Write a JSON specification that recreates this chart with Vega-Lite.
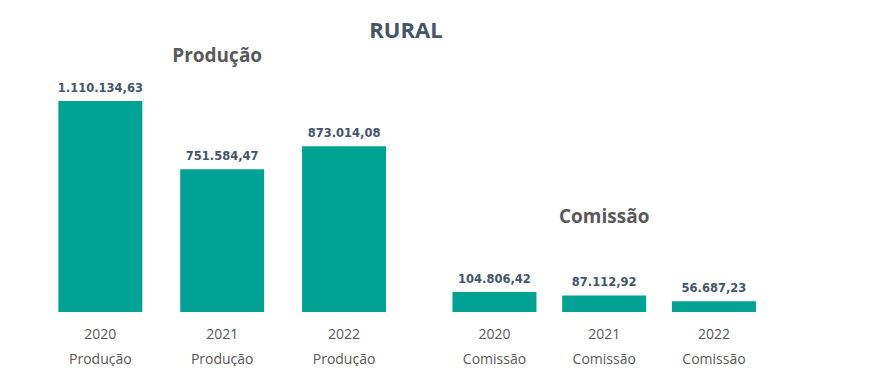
{
  "$schema": "https://vega.github.io/schema/vega-lite/v6.json",
  "padding": {"left": 34, "top": 19, "right": 5, "bottom": 0},
  "title": {"text": "RURAL", "font": "Open Sans", "fontSize": 22, "fontWeight": "bold", "color": "#44546A", "anchor": "middle", "offset": 4},
  "config": {
    "view": {"stroke": null},
    "concat": {"spacing": 19.5},
    "locale": {"number": {"decimal": ",", "thousands": ".", "grouping": [3], "currency": ["R$", ""]}}
  },
  "data": {"values": [
    {"grupo": "Produção", "ano": "2020", "valor": 1110134.63},
    {"grupo": "Produção", "ano": "2021", "valor": 751584.47},
    {"grupo": "Produção", "ano": "2022", "valor": 873014.08},
    {"grupo": "Comissão", "ano": "2020", "valor": 104806.42},
    {"grupo": "Comissão", "ano": "2021", "valor": 87112.92},
    {"grupo": "Comissão", "ano": "2022", "valor": 56687.23}
  ]},
  "hconcat": [
    {
      "transform": [{"filter": "datum.grupo === 'Produção'"}],
      "width": 376.4,
      "height": 228,
      "title": {"text": "Produção", "font": "Open Sans", "fontSize": 19, "fontWeight": "bold", "color": "#595959", "frame": "group", "baseline": "alphabetic", "offset": 2, "dx": -5},
      "encoding": {
        "x": {"field": "ano", "type": "ordinal", "scale": {"paddingInner": 0.311, "paddingOuter": 0.2},
          "axis": {"title": null, "domain": false, "ticks": false, "labelAngle": 0, "labelFont": "Open Sans", "labelFontSize": 14, "labelColor": "#595959", "labelLineHeight": 25, "labelPadding": 15, "labelExpr": "[datum.label, 'Produção']"}},
        "y": {"field": "valor", "type": "quantitative", "scale": {"domain": [0, 1200000], "nice": false}, "axis": null}
      },
      "layer": [
        {"mark": {"type": "bar", "color": "#00A393"}},
        {"mark": {"type": "text", "baseline": "middle", "dy": -12.5, "font": "DejaVu Sans", "fontWeight": "bold", "fontSize": 11.5, "color": "#44546A"},
         "encoding": {"text": {"field": "valor", "type": "quantitative", "format": ",.2f"}}}
      ]
    },
    {
      "transform": [{"filter": "datum.grupo === 'Comissão'"}],
      "width": 347.4,
      "height": 228,
      "title": {"text": "Comissão", "font": "Open Sans", "fontSize": 19, "fontWeight": "bold", "color": "#595959", "frame": "group", "baseline": "alphabetic", "offset": -158},
      "encoding": {
        "x": {"field": "ano", "type": "ordinal", "scale": {"paddingInner": 0.2346, "paddingOuter": 0.2},
          "axis": {"title": null, "domain": false, "ticks": false, "labelAngle": 0, "labelFont": "Open Sans", "labelFontSize": 14, "labelColor": "#595959", "labelLineHeight": 25, "labelPadding": 15, "labelExpr": "[datum.label, 'Comissão']"}},
        "y": {"field": "valor", "type": "quantitative", "scale": {"domain": [0, 1200000], "nice": false}, "axis": null}
      },
      "layer": [
        {"mark": {"type": "bar", "color": "#00A393"}},
        {"mark": {"type": "text", "baseline": "middle", "dy": -12.5, "font": "DejaVu Sans", "fontWeight": "bold", "fontSize": 11.5, "color": "#44546A"},
         "encoding": {"text": {"field": "valor", "type": "quantitative", "format": ",.2f"}}}
      ]
    }
  ]
}
